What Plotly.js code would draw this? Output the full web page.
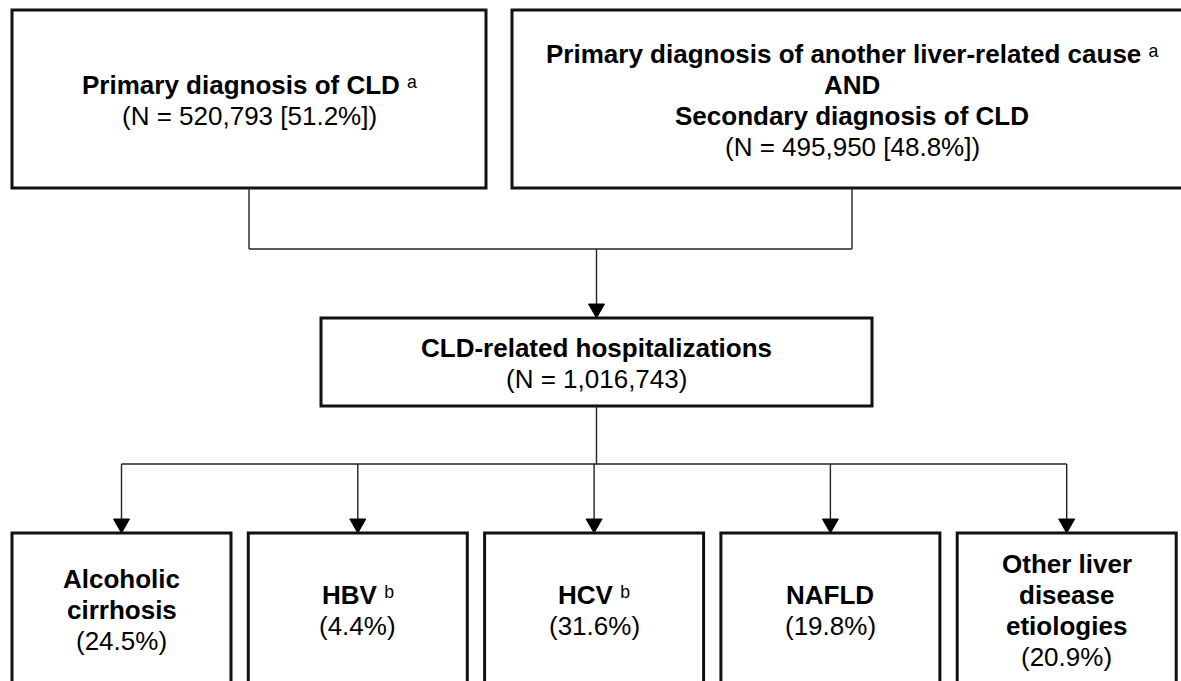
<!DOCTYPE html>
<html>
<head>
<meta charset="utf-8">
<script src="https://cdn.plot.ly/plotly-3.0.1.min.js"></script>
<style>
  html, body { margin: 0; padding: 0; background: #ffffff; }
  #chart { width: 1181px; height: 681px; }
</style>
</head>
<body>
<div id="chart"></div>
<script>
// ---------------- DATA ----------------
const sourceTitles = [
  ["Primary diagnosis of CLD"],
  ["Primary diagnosis of another liver-related cause", "AND", "Secondary diagnosis of CLD"]
];
const sourceNotes = ["ᵃ", "ᵃ"];
const sourceN = [520793, 495950];
const sourcePct = [51.2, 48.8];

const totalTitle = "CLD-related hospitalizations";
const totalN = 1016743;

const etiologyTitles = [
  ["Alcoholic", "cirrhosis"],
  ["HBV"],
  ["HCV"],
  ["NAFLD"],
  ["Other liver", "disease", "etiologies"]
];
const etiologyNotes = ["", "ᵇ", "ᵇ", "", ""];
const etiologyPct = [24.5, 4.4, 31.6, 19.8, 20.9];

// ---------------- LAYOUT GEOMETRY ----------------
const W = 1181, H = 681;
const FONT = "Liberation Sans, Arial, Helvetica, sans-serif";
const FS = 26;
const LINE_GAP = 31;
const BOX_LINE = {color: "#111111", width: 3};
const CONN_LINE = {color: "#222222", width: 1.4};

const topBoxes = [
  {x0: 12, x1: 486, y0: 10, y1: 188},
  {x0: 512, x1: 1192, y0: 10, y1: 188}
];
const midBox = {x0: 321, x1: 872, y0: 318, y1: 406};
const topJoinY = 249;
const branchY = 464;
const botTop = 533, botBottom = 720, botStart = 12, botW = 219, botStep = 236.3;
const botTextCenter = 610;
const arrowH = 14, arrowHalf = 8;

const fmt = n => n.toLocaleString("en-US");

const shapes = [];
const annotations = [];

function rect(b) {
  shapes.push({type: "rect", xref: "x", yref: "y", x0: b.x0, x1: b.x1, y0: b.y0, y1: b.y1,
    line: BOX_LINE, fillcolor: "rgba(0,0,0,0)", layer: "above"});
}
function seg(x0, y0, x1, y1) {
  shapes.push({type: "line", xref: "x", yref: "y", x0, y0, x1, y1, line: CONN_LINE, layer: "above"});
}
function arrowDown(x, yTip) {
  shapes.push({type: "path", xref: "x", yref: "y",
    path: `M ${x - arrowHalf},${yTip - arrowH} L ${x + arrowHalf},${yTip - arrowH} L ${x},${yTip} Z`,
    fillcolor: "#000000", line: {color: "#000000", width: 1}, layer: "above"});
}
// one annotation per text line, stacked around a centre
function block(x, yc, lines) {
  const n = lines.length;
  lines.forEach((t, i) => {
    annotations.push({xref: "x", yref: "y", x, y: yc + (i - (n - 1) / 2) * LINE_GAP, text: t,
      showarrow: false, xanchor: "center", yanchor: "middle", align: "center",
      font: {family: FONT, size: FS, color: "#000000"}});
  });
}
function boldLines(lines, note) {
  return lines.map((l, i) => {
    let s = "<b>" + l + "</b>";
    if (i === 0 && note) s += " " + note;
    return s;
  });
}

// top boxes
topBoxes.forEach((b, i) => {
  rect(b);
  const lines = boldLines(sourceTitles[i], sourceNotes[i]);
  lines.push("(N = " + fmt(sourceN[i]) + " [" + sourcePct[i].toFixed(1) + "%])");
  block((b.x0 + b.x1) / 2, (b.y0 + b.y1) / 2 + 1, lines);
});

// join connector
const cL = (topBoxes[0].x0 + topBoxes[0].x1) / 2;
const cR = (topBoxes[1].x0 + topBoxes[1].x1) / 2;
const cM = (midBox.x0 + midBox.x1) / 2;
seg(cL, topBoxes[0].y1, cL, topJoinY);
seg(cR, topBoxes[1].y1, cR, topJoinY);
seg(cL, topJoinY, cR, topJoinY);
seg(cM, topJoinY, cM, midBox.y0 - arrowH);
arrowDown(cM, midBox.y0);

// middle box
rect(midBox);
block(cM, (midBox.y0 + midBox.y1) / 2 + 1,
  ["<b>" + totalTitle + "</b>", "(N = " + fmt(totalN) + ")"]);

// branches
seg(cM, midBox.y1, cM, branchY);
const centers = etiologyPct.map((_, i) => botStart + i * botStep + botW / 2);
seg(centers[0], branchY, centers[centers.length - 1], branchY);
etiologyPct.forEach((p, i) => {
  const x0 = botStart + i * botStep, x1 = x0 + botW, cx = centers[i];
  seg(cx, branchY, cx, botTop - arrowH);
  arrowDown(cx, botTop);
  rect({x0, x1, y0: botTop, y1: botBottom});
  const lines = boldLines(etiologyTitles[i], etiologyNotes[i]);
  lines.push("(" + p.toFixed(1) + "%)");
  block(cx, botTextCenter, lines);
});

const layout = {
  width: W, height: H,
  margin: {l: 0, r: 0, t: 0, b: 0, pad: 0},
  paper_bgcolor: "#ffffff", plot_bgcolor: "#ffffff",
  showlegend: false,
  xaxis: {range: [0, W], visible: false, fixedrange: true},
  yaxis: {range: [H, 0], visible: false, fixedrange: true},
  shapes, annotations
};

Plotly.newPlot("chart", [{x: [], y: [], type: "scatter", mode: "markers", hoverinfo: "skip"}], layout,
  {displayModeBar: false, staticPlot: true});
</script>
</body>
</html>
